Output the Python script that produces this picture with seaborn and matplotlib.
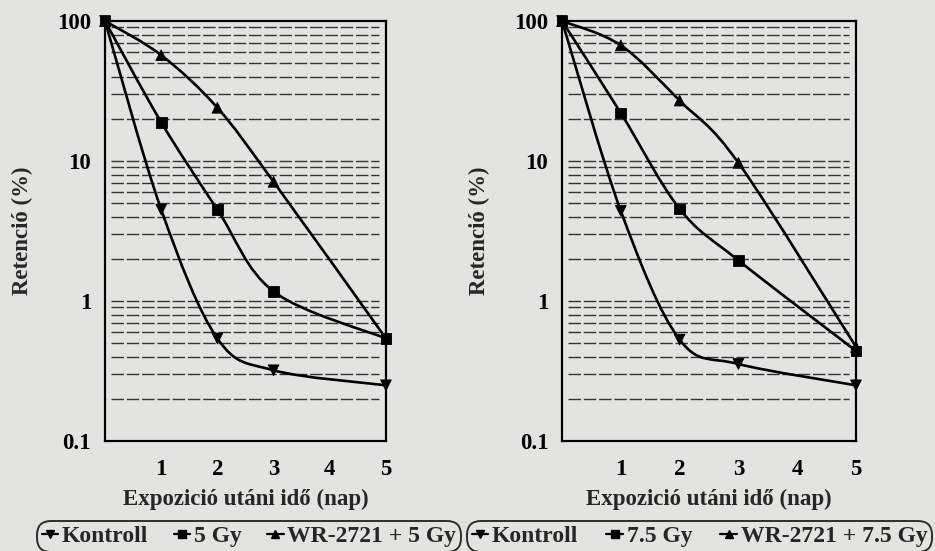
import numpy as np
import pandas as pd
import seaborn as sns
import matplotlib.pyplot as plt
from matplotlib.path import Path
from matplotlib.patches import PathPatch
from matplotlib.lines import Line2D

days = [0, 1, 2, 3, 5]
x_ticks = [1, 2, 3, 4, 5]
y_ticks = [0.1, 1, 10, 100]
y_tick_labels = ["0.1", "1", "10", "100"]

# left panel
kontroll_a = [100, 4.5, 0.54, 0.32, 0.25]
gy_5 = [100, 18.9, 4.5, 1.17, 0.54]
wr_gy_5 = [100, 57, 24, 7.1, 0.54]
labels_a = ["Kontroll", "5 Gy", "WR-2721 + 5 Gy"]

# right panel
kontroll_b = [100, 4.4, 0.53, 0.355, 0.25]
gy_75 = [100, 22, 4.55, 1.95, 0.44]
wr_gy_75 = [100, 67, 27, 9.7, 0.47]
labels_b = ["Kontroll", "7.5 Gy", "WR-2721 + 7.5 Gy"]

markers = ["v", "s", "^"]
paper = "#e3e3e1"

sns.set_theme(style="white")
plt.rcParams["font.family"] = ["Liberation Serif", "DejaVu Serif"]
plt.rcParams["font.weight"] = "bold"
plt.rcParams["axes.labelweight"] = "bold"


def smooth_path(x, y):
    # excel-like smoothed line: bezier through the points in (x, log y)
    pts = np.column_stack([np.array(x, float), np.log10(y)])
    ext = np.vstack([pts[0], pts, pts[-1]])
    verts = [pts[0]]
    codes = [Path.MOVETO]
    for i in range(len(pts) - 1):
        p0, p1, p2, p3 = ext[i], ext[i + 1], ext[i + 2], ext[i + 3]
        verts += [p1 + (p2 - p0) / 6, p2 - (p3 - p1) / 6, p2]
        codes += [Path.CURVE4] * 3
    verts = np.array(verts)
    verts[:, 1] = 10 ** verts[:, 1]
    return Path(verts, codes)


def draw_panel(ax, series, labels, label_x):
    df = pd.DataFrame({
        "nap": days * len(series),
        "ret": sum(series, []),
        "csoport": np.repeat(labels, len(days)),
    })
    ax.set_facecolor(paper)
    ax.set_yscale("log")
    for s in series:
        ax.add_patch(PathPatch(smooth_path(days, s), fill=False, lw=1.9,
                               ec="black", zorder=3))
    sns.scatterplot(data=df, x="nap", y="ret", style="csoport",
                    markers=dict(zip(labels, markers)), color="black",
                    s=60, edgecolor="black", linewidth=0.6, legend=False,
                    ax=ax, zorder=4, clip_on=False)
    ax.set_xlim(0, 5)
    ax.set_ylim(0.1, 100)
    ax.set_xticks(x_ticks)
    ax.set_xticklabels([str(t) for t in x_ticks], fontsize=16.5, fontweight="bold")
    ax.set_yticks(y_ticks)
    ax.set_yticklabels(y_tick_labels, fontsize=16.5, fontweight="bold")
    ax.yaxis.set_minor_formatter(plt.NullFormatter())
    ax.tick_params(axis="x", direction="out", length=5, width=1.5, pad=8, colors="black")
    ax.tick_params(axis="y", which="both", length=0, pad=10, colors="black")
    # dashed grid, a little short of the frame on both sides
    ax.yaxis.grid(False)
    ax.xaxis.grid(False)
    grid_levels = [m * 10.0 ** e for e in (-1, 0, 1) for m in range(1, 10)][1:]
    for g in grid_levels:
        ax.axhline(g, xmin=0.02, xmax=0.975, color="#333333", lw=1.0,
                   linestyle=(0, (9, 2)), zorder=1)
    for sp in ax.spines.values():
        sp.set_color("black")
        sp.set_linewidth(1.6)
    ax.set_xlabel("Expozició utáni idő (nap)", fontsize=16.5, fontweight="bold")
    ax.set_ylabel("Retenció (%)", fontsize=16.5, fontweight="bold")
    ax.xaxis.set_label_coords(0.5, -0.14)
    ax.xaxis.label.set_va("center")
    ax.yaxis.set_label_coords(label_x, 0.5)
    ax.yaxis.label.set_va("center")


fig = plt.figure(figsize=(9.35, 5.51), dpi=100, facecolor=paper)
ax1 = fig.add_axes([0.1123, 0.1996, 0.3005, 0.7623])
ax2 = fig.add_axes([0.6011, 0.1996, 0.3144, 0.7623])

draw_panel(ax1, [kontroll_a, gy_5, wr_gy_5], labels_a, -0.295)
draw_panel(ax2, [kontroll_b, gy_75, wr_gy_75], labels_b, -0.282)

top = 1 - 521 / 551
for labels, x0, x1 in [(labels_a, 37, 461), (labels_b, 467, 932)]:
    handles = [Line2D([], [], color="black", lw=1.6, marker=m, markersize=6)
               for m in markers]
    leg = fig.legend(handles, labels, loc="upper left",
                     bbox_to_anchor=(x0 / 935, top - 0.2, (x1 - x0) / 935, 0.2),
                     mode="expand", ncol=3, fancybox=True, frameon=True,
                     borderaxespad=0, handlelength=0.7, handletextpad=0.15,
                     borderpad=0.2, columnspacing=0.5,
                     prop={"size": 17, "weight": "bold"})
    fr = leg.get_frame()
    fr.set_edgecolor("black")
    fr.set_linewidth(1.4)
    fr.set_facecolor("none")
    fr.set_boxstyle("round", pad=0.0, rounding_size=0.6)

fig.savefig("out.png", dpi=100, facecolor=paper)
